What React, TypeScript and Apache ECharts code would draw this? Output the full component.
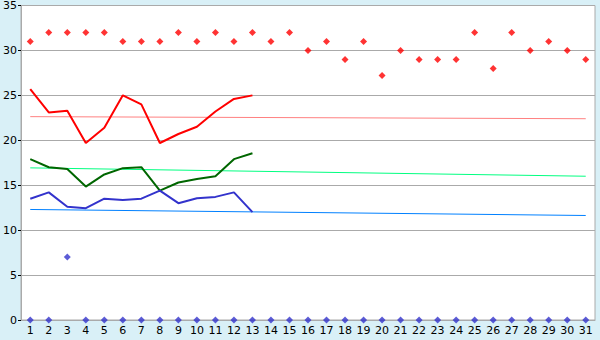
import React, { useEffect, useRef } from "react";
import * as echarts from "echarts";

const days = Array.from({ length: 31 }, (_, i) => String(i + 1));
const maxDots = [31, 32, 32, 32, 32, 31, 31, 31, 32, 31, 32, 31, 32, 31, 32, 30, 31, 29, 31, 27.2, 30, 29, 29, 29, 32, 28, 32, 30, 31, 30, 29];
const redLine = [25.7, 23.1, 23.3, 19.7, 21.4, 25.0, 24.0, 19.7, 20.7, 21.5, 23.2, 24.6, 25.0];
const greenLine = [17.9, 17.0, 16.8, 14.85, 16.2, 16.9, 17.0, 14.4, 15.3, 15.7, 16.0, 17.9, 18.55];
const blueLine = [13.5, 14.2, 12.6, 12.45, 13.5, 13.35, 13.5, 14.4, 13.0, 13.55, 13.7, 14.2, 12.0];
const minDots = [0, 0, 7, 0, 0, 0, 0, 0, 0, 0, 0, 0, 0, 0, 0, 0, 0, 0, 0, 0, 0, 0, 0, 0, 0, 0, 0, 0, 0, 0, 0];
const redTrend = [22.63, 22.4];
const greenTrend = [16.93, 16.0];
const blueTrend = [12.3, 11.63];
const yTicks = { min: 0, max: 35, interval: 5 };

export default function App() {
  const ref = useRef<HTMLDivElement>(null);
  useEffect(() => {
    const chart = echarts.init(ref.current!, null, { renderer: "svg" });
    const trend = (vals: number[], color: string) => ({
      type: "line",
      data: [[0, vals[0]], [30, vals[1]]],
      symbol: "none",
      lineStyle: { color, width: 1 },
      z: 1,
    });
    chart.setOption({
      animation: false,
      backgroundColor: "#d9f0f7",
      grid: {
        left: 21,
        right: 5,
        top: 5,
        bottom: 20,
        show: true,
        backgroundColor: "#ffffff",
        borderColor: "#aaaaaa",
        borderWidth: 1,
      },
      xAxis: {
        type: "category",
        data: days,
        boundaryGap: true,
        axisLine: { lineStyle: { color: "#aaaaaa" } },
        axisTick: { alignWithLabel: true, length: 6, lineStyle: { color: "#000" } },
        axisLabel: { color: "#000", fontFamily: "DejaVu Sans", fontSize: 11, margin: 5, interval: 0 },
        splitLine: { show: false },
      },
      yAxis: {
        type: "value",
        min: yTicks.min,
        max: yTicks.max,
        interval: yTicks.interval,
        axisLine: { show: true, lineStyle: { color: "#aaaaaa" } },
        axisTick: { show: true, length: 3, lineStyle: { color: "#000" } },
        axisLabel: { color: "#000", fontFamily: "DejaVu Sans", fontSize: 11, margin: 4 },
        splitLine: { lineStyle: { color: "#aaaaaa" } },
      },
      series: [
        trend(redTrend, "#ff8080"),
        trend(greenTrend, "#00ff80"),
        trend(blueTrend, "#0080ff"),
        {
          type: "line",
          data: redLine,
          symbol: "none",
          lineStyle: { color: "#ff0000", width: 2 },
          z: 3,
        },
        {
          type: "line",
          data: greenLine,
          symbol: "none",
          lineStyle: { color: "#006600", width: 2 },
          z: 3,
        },
        {
          type: "line",
          data: blueLine,
          symbol: "none",
          lineStyle: { color: "#3333cc", width: 2 },
          z: 3,
        },
        {
          type: "scatter",
          data: maxDots,
          symbol: "diamond",
          symbolSize: 7,
          itemStyle: { color: "#ff0000" },
          z: 4,
        },
        {
          type: "scatter",
          data: minDots,
          symbol: "diamond",
          symbolSize: 7,
          itemStyle: { color: "#3333cc" },
          clip: false,
          z: 4,
        },
      ],
    });
    return () => chart.dispose();
  }, []);
  return (
    <div
      ref={ref}
      style={{ position: "absolute", left: 0, top: 0, width: 600, height: 340 }}
    />
  );
}
